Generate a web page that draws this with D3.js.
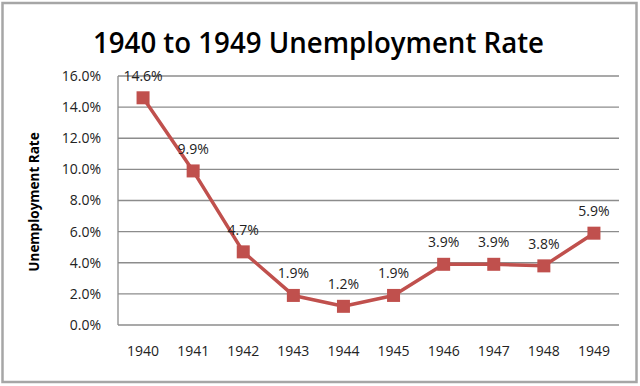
<!DOCTYPE html>
<html><head><meta charset="utf-8">
<script src="https://cdn.jsdelivr.net/npm/d3@7"></script>
<style>body{margin:0;background:#fff}svg{display:block}</style>
</head><body>
<script>
const years = ["1940","1941","1942","1943","1944","1945","1946","1947","1948","1949"];
const rates = [14.6, 9.9, 4.7, 1.9, 1.2, 1.9, 3.9, 3.9, 3.8, 5.9];
const yTicks = [0, 2, 4, 6, 8, 10, 12, 14, 16];
const titleText = "1940 to 1949 Unemployment Rate";
const yTitle = "Unemployment Rate";

(function () {
const W = 640, H = 386;
const svg = d3.select("body").append("svg").attr("width", W).attr("height", H);
svg.append("rect").attr("x", 0).attr("y", 0).attr("width", W).attr("height", H).attr("fill", "#fff");
svg.append("rect").attr("x", 2.5).attr("y", 3).attr("width", 634).attr("height", 379)
  .attr("fill", "#fff").attr("stroke", "#a6a6a6").attr("stroke-width", 2.5);

const pLeft = 118, pRight = 619, pTop = 76, pBottom = 325;
const x = d3.scaleBand().domain(years).range([pLeft, pRight]);
const y = d3.scaleLinear().domain([0, 16]).range([pBottom, pTop]);
const font = "'Open Sans', 'Noto Sans', sans-serif";
const fs = 14;

svg.append("text").attr("x", 318.5).attr("y", 53).attr("text-anchor", "middle")
  .attr("font-family", font).attr("font-size", 29).attr("font-weight", 600)
  .attr("textLength", 451).attr("lengthAdjust", "spacingAndGlyphs")
  .attr("fill", "#000").text(titleText);

svg.append("g").selectAll("line").data(yTicks).join("line")
  .attr("x1", pLeft).attr("x2", pRight)
  .attr("y1", d => y(d)).attr("y2", d => y(d))
  .attr("stroke", "#8c8c8c").attr("stroke-width", 1.3);
svg.append("line").attr("x1", pLeft).attr("x2", pLeft).attr("y1", pTop).attr("y2", pBottom)
  .attr("stroke", "#8c8c8c").attr("stroke-width", 1.3);

const yAxis = d3.axisLeft(y).tickValues(yTicks).tickSize(0).tickPadding(17)
  .tickFormat(d => d.toFixed(1) + "%");
const ya = svg.append("g").attr("transform", `translate(${pLeft},0)`).call(yAxis);
ya.select(".domain").remove();
ya.selectAll("text").attr("font-family", font).attr("font-size", fs).attr("fill", "#222");

const xAxis = d3.axisBottom(x).tickSize(0).tickPadding(21);
const xa = svg.append("g").attr("transform", `translate(0,${pBottom})`).call(xAxis);
xa.select(".domain").remove();
xa.selectAll("text").attr("font-family", font).attr("font-size", fs).attr("fill", "#222");

svg.append("text").attr("transform", "translate(39,202) rotate(-90)")
  .attr("text-anchor", "middle").attr("font-family", font).attr("font-size", 13.5)
  .attr("font-weight", 700).attr("fill", "#000").text(yTitle);

const cx = d => x(d) + x.bandwidth() / 2;
const line = d3.line().x((d, i) => cx(years[i])).y(d => y(d));
svg.append("path").datum(rates).attr("d", line).attr("fill", "none")
  .attr("stroke", "#c0504d").attr("stroke-width", 3.5).attr("stroke-linejoin", "round");

const m = 13;
svg.append("g").selectAll("rect").data(rates).join("rect")
  .attr("x", (d, i) => cx(years[i]) - m / 2).attr("y", d => y(d) - m / 2)
  .attr("width", m).attr("height", m).attr("fill", "#c0504d");

svg.append("g").selectAll("text").data(rates).join("text")
  .attr("x", (d, i) => cx(years[i])).attr("y", d => y(d) - 17)
  .attr("text-anchor", "middle").attr("font-family", font).attr("font-size", fs)
  .attr("fill", "#222").text(d => d.toFixed(1) + "%");
})();
</script>
</body></html>
